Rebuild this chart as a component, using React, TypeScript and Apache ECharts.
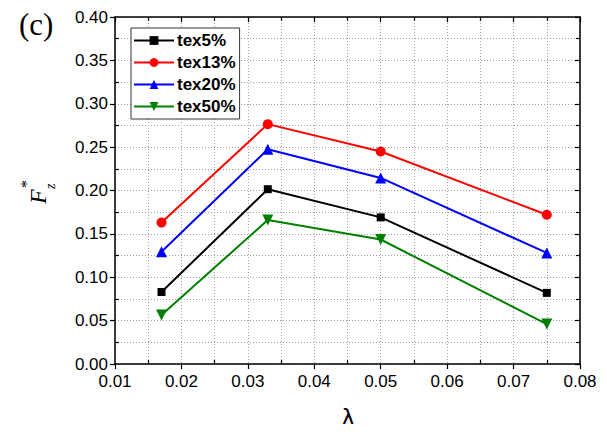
import React, { useEffect, useRef } from "react";
import * as echarts from "echarts";

const lambdas = [0.017, 0.033, 0.05, 0.075];
const tex5 = [0.083, 0.2015, 0.169, 0.082];
const tex13 = [0.163, 0.2765, 0.245, 0.172];
const tex20 = [0.1295, 0.2475, 0.2145, 0.128];
const tex50 = [0.0565, 0.166, 0.1435, 0.046];
const seriesNames = ["tex5%", "tex13%", "tex20%", "tex50%"];
const seriesColors = ["#000000", "#ff0000", "#0000ff", "#008000"];
const seriesSymbols = ["rect", "circle", "triangle", "path://M0,0 L10,0 L5,9 Z"];
const seriesSizes = [8, 10, 11, 11];
const xTitle = "λ";

export default function App() {
  const ref = useRef<HTMLDivElement>(null);
  useEffect(() => {
    const chart = echarts.init(ref.current!, null, { renderer: "svg" });
    const data = [tex5, tex13, tex20, tex50];
    const axisLineStyle = { color: "#000", width: 1.5 };
    const labelStyle = {
      color: "#000",
      fontFamily: "Liberation Sans, Arial, sans-serif",
      fontSize: 17,
    };
    const gridLine = { show: true, lineStyle: { color: "#a0a0a0", type: [1, 2], width: 1 } };
    const grid = { left: 115, right: 27, top: 17, bottom: 68, outerBoundsMode: "none", containLabel: false };
    const option: any = {
      animation: false,
      backgroundColor: "#fff",
      grid,
      legend: {
        left: 131,
        top: 28,
        orient: "vertical",
        itemGap: 5,
        itemWidth: 40,
        itemHeight: 11,
        padding: [4, 4, 4, 2],
        borderColor: "#333",
        borderWidth: 1,
        backgroundColor: "#fff",
        textStyle: {
          color: "#000",
          fontWeight: "bold",
          fontFamily: "Liberation Sans, Arial, sans-serif",
          fontSize: 17,
          padding: [0, 0, 0, -2],
        },
        data: seriesNames,
      },
      xAxis: [
        {
          type: "value",
          position: "bottom",
          min: 0.01,
          max: 0.08,
          interval: 0.01,
          axisLine: { show: true, onZero: false, lineStyle: axisLineStyle },
          axisTick: { show: true, inside: false, length: 5, lineStyle: { color: "#000", width: 1.2 } },
          minorTick: { show: false, splitNumber: 2 },
          axisLabel: { ...labelStyle, margin: 9, formatter: (v: number) => v.toFixed(2) },
          splitLine: gridLine,
          minorSplitLine: gridLine,
        },
        {
          type: "value",
          position: "bottom",
          min: 0.01,
          max: 0.08,
          interval: 0.01,
          axisLine: { show: false, onZero: false },
          axisTick: { show: false, inside: true },
          minorTick: { show: true, splitNumber: 2, length: 4, lineStyle: { color: "#000", width: 1.2 } },
          axisLabel: { show: false },
          splitLine: { show: false },
        },
        {
          type: "value",
          position: "top",
          min: 0.01,
          max: 0.08,
          interval: 0.01,
          axisLine: { show: true, onZero: false, lineStyle: axisLineStyle },
          axisTick: { show: true, inside: true, length: 5, lineStyle: { color: "#000", width: 1.2 } },
          minorTick: { show: true, splitNumber: 2, length: 4, lineStyle: { color: "#000", width: 1.2 } },
          axisLabel: { show: false },
          splitLine: { show: false },
        },
      ],
      yAxis: [
        {
          type: "value",
          position: "left",
          min: 0,
          max: 0.4,
          interval: 0.05,
          axisLine: { show: true, onZero: false, lineStyle: axisLineStyle },
          axisTick: { show: true, inside: false, length: 5, lineStyle: { color: "#000", width: 1.2 } },
          minorTick: { show: false, splitNumber: 2 },
          axisLabel: { ...labelStyle, margin: 7, formatter: (v: number) => v.toFixed(2) },
          splitLine: gridLine,
          minorSplitLine: gridLine,
        },
        {
          type: "value",
          position: "left",
          min: 0,
          max: 0.4,
          interval: 0.05,
          axisLine: { show: false, onZero: false },
          axisTick: { show: false, inside: true },
          minorTick: { show: true, splitNumber: 2, length: 4, lineStyle: { color: "#000", width: 1.2 } },
          axisLabel: { show: false },
          splitLine: { show: false },
        },
        {
          type: "value",
          position: "right",
          min: 0,
          max: 0.4,
          interval: 0.05,
          axisLine: { show: true, onZero: false, lineStyle: axisLineStyle },
          axisTick: { show: true, inside: true, length: 5, lineStyle: { color: "#000", width: 1.2 } },
          minorTick: { show: true, splitNumber: 2, length: 4, lineStyle: { color: "#000", width: 1.2 } },
          axisLabel: { show: false },
          splitLine: { show: false },
        },
      ],
      series: seriesNames.map((name, i) => ({
        name,
        type: "line",
        xAxisIndex: 0,
        yAxisIndex: 0,
        data: lambdas.map((x, j) => [x, data[i][j]]),
        symbol: seriesSymbols[i],
        symbolSize: seriesSizes[i],
        showAllSymbol: true,
        lineStyle: { color: seriesColors[i], width: 2 },
        itemStyle: { color: seriesColors[i], borderWidth: 0 },
        z: 10 - i,
      })),
      graphic: [
        {
          type: "text",
          left: 19,
          top: 9,
          style: {
            text: "(c)",
            fill: "#000",
            font: "31px 'Liberation Serif', 'Times New Roman', serif",
          },
        },
        {
          type: "text",
          x: 348,
          y: 418,
          style: {
            text: xTitle,
            fill: "#000",
            font: "23px 'DejaVu Sans', sans-serif",
            textAlign: "center",
            textVerticalAlign: "middle",
          },
        },
        {
          type: "group",
          x: 50,
          y: 204,
          rotation: Math.PI / 2,
          children: [
            {
              type: "text",
              x: 0,
              y: 0,
              style: {
                text: "F",
                fill: "#000",
                font: "italic 24px 'Liberation Serif', 'Times New Roman', serif",
                textVerticalAlign: "bottom",
              },
            },
            {
              type: "text",
              x: 16,
              y: -24,
              style: {
                text: "*",
                fill: "#000",
                font: "16px 'Liberation Serif', 'Times New Roman', serif",
                textVerticalAlign: "middle",
              },
            },
            {
              type: "text",
              x: 15,
              y: 0,
              style: {
                text: "z",
                fill: "#000",
                font: "italic 14px 'Liberation Serif', 'Times New Roman', serif",
                textVerticalAlign: "middle",
              },
            },
          ],
        },
      ],
    };
    chart.setOption(option);
    return () => chart.dispose();
  }, []);
  return <div ref={ref} style={{ width: 607, height: 432, margin: -8 }} />;
}
